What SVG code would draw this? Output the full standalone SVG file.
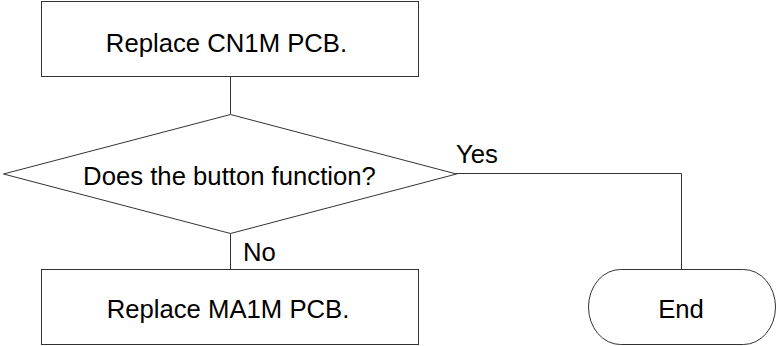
<svg xmlns="http://www.w3.org/2000/svg" width="777" height="346" viewBox="0 0 777 346">
<style>
.s{fill:#fff;stroke:#333;stroke-width:1}
.c{fill:none;stroke:#333;stroke-width:1}
text{font-family:"Liberation Sans",Arial,sans-serif;font-size:25.7px;fill:#000}
.m{text-anchor:middle}
</style>
<rect width="777" height="346" fill="#fff"/>
<g id="connectors">
<line class="c" x1="230.5" y1="77" x2="230.5" y2="114"/>
<line class="c" x1="230.5" y1="234" x2="230.5" y2="269"/>
<polyline class="c" points="456,173.5 681.5,173.5 681.5,269"/>
<text x="243" y="261">No</text>
<text x="456" y="163">Yes</text>
</g>
<g id="n1">
<rect class="s" x="41.5" y="1.5" width="377" height="75"/>
<text class="m" x="226.5" y="52">Replace CN1M PCB.</text>
</g>
<g id="n2">
<polygon class="s" points="230.5,114.5 456.5,174 230.5,233.5 3.5,174"/>
<text class="m" x="229.5" y="185">Does the button function?</text>
</g>
<g id="n3">
<rect class="s" x="41.5" y="269.5" width="377" height="75"/>
<text class="m" x="228" y="318">Replace MA1M PCB.</text>
</g>
<g id="n4">
<rect class="s" x="588.5" y="269.5" width="187" height="75" rx="32" ry="37.5"/>
<text class="m" x="681" y="318">End</text>
</g>
</svg>
